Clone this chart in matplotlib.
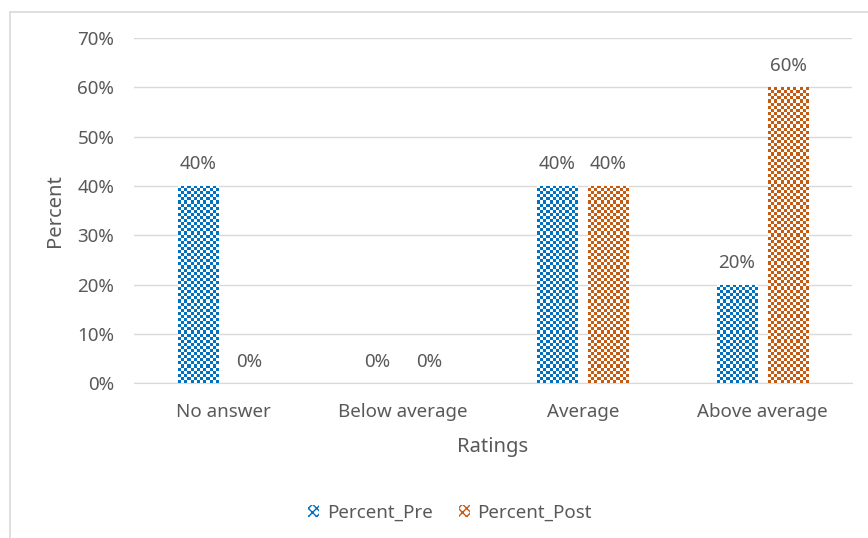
import numpy as np
import matplotlib
matplotlib.use('Agg')
import matplotlib.pyplot as plt
from matplotlib.patches import Patch, Rectangle
from matplotlib.ticker import PercentFormatter

ratings = ['No answer', 'Below average', 'Average', 'Above average']
percent_pre = [40, 0, 40, 20]
percent_post = [0, 0, 40, 60]
series_names = ['Percent_Pre', 'Percent_Post']

blue = '#0070C0'
orange = '#C55A11'
grey = '#595959'

plt.rcParams['font.family'] = ['Noto Sans', 'DejaVu Sans']

fig = plt.figure(figsize=(8.68, 5.38), dpi=100)
ax = fig.add_axes([0.154, 0.288, 0.828, 0.641])

# chart frame
fig.patches.append(Rectangle((10 / 868, -0.1), 1.2, 1.1 - 12 / 538,
                             transform=fig.transFigure, fill=False,
                             edgecolor='#D9D9D9', linewidth=1.2))

x = np.arange(len(ratings))
width = 0.223
offset = 0.142

ax.set_xlim(-0.5, len(ratings) - 0.5)
ax.set_ylim(0, 70)

pre_bars = ax.bar(x - offset, percent_pre, width, color='none', zorder=3)
post_bars = ax.bar(x + offset, percent_post, width, color='none', zorder=3)


def checker(bars, color):
    # fill every bar with a small checkerboard pattern
    rgb = np.array(matplotlib.colors.to_rgb(color))
    for b in bars:
        if b.get_height() <= 0:
            continue
        x0, y0 = b.get_x(), b.get_y()
        x1, y1 = x0 + b.get_width(), y0 + b.get_height()
        p0 = ax.transData.transform((x0, y0))
        p1 = ax.transData.transform((x1, y1))
        nx = max(1, int(round((p1[0] - p0[0]) / 3.1)))
        ny = max(1, int(round((p1[1] - p0[1]) / 3.1)))
        board = (np.add.outer(np.arange(ny), np.arange(nx)) % 2).astype(float)
        img = np.ones((ny, nx, 3))
        img[board == 0] = rgb
        im = ax.imshow(img, extent=(x0, x1, y0, y1), origin='lower',
                       interpolation='nearest', aspect='auto', zorder=3)
        im.set_clip_path(b)


checker(pre_bars, blue)
checker(post_bars, orange)
ax.set_xlim(-0.5, len(ratings) - 0.5)
ax.set_ylim(0, 70)

for bars in (pre_bars, post_bars):
    for b in bars:
        ax.annotate(f'{b.get_height():.0f}%',
                    (b.get_x() + b.get_width() / 2, b.get_height()),
                    xytext=(0, 9), textcoords='offset points',
                    ha='center', va='bottom', fontsize=13.5, color=grey)

ax.set_yticks(np.arange(0, 71, 10))
ax.yaxis.set_major_formatter(PercentFormatter(decimals=0))
ax.set_xticks(x)
ax.set_xticklabels(ratings)
ax.tick_params(length=0, labelsize=13.5, colors=grey)
ax.tick_params(axis='y', pad=14)
ax.tick_params(axis='x', pad=14)
ax.grid(axis='y', color='#D9D9D9', linewidth=1, zorder=0)
ax.set_axisbelow(True)
for s in ['top', 'right', 'left']:
    ax.spines[s].set_visible(False)
ax.spines['bottom'].set_color('#D9D9D9')

ax.set_xlabel('Ratings', fontsize=14.5, color=grey, labelpad=12)
ax.set_ylabel('Percent', fontsize=14.5, color=grey, labelpad=9)

handles = [Patch(facecolor='white', edgecolor=c, hatch='xxxx', linewidth=0)
           for c in (blue, orange)]
ax.legend(handles, series_names, loc='center', bbox_to_anchor=(0.44, -0.375),
          ncol=2, frameon=False, fontsize=13.5, labelcolor=grey,
          handlelength=0.6, handleheight=0.6, columnspacing=1.4,
          handletextpad=0.4)

fig.savefig('out.png', dpi=100)
